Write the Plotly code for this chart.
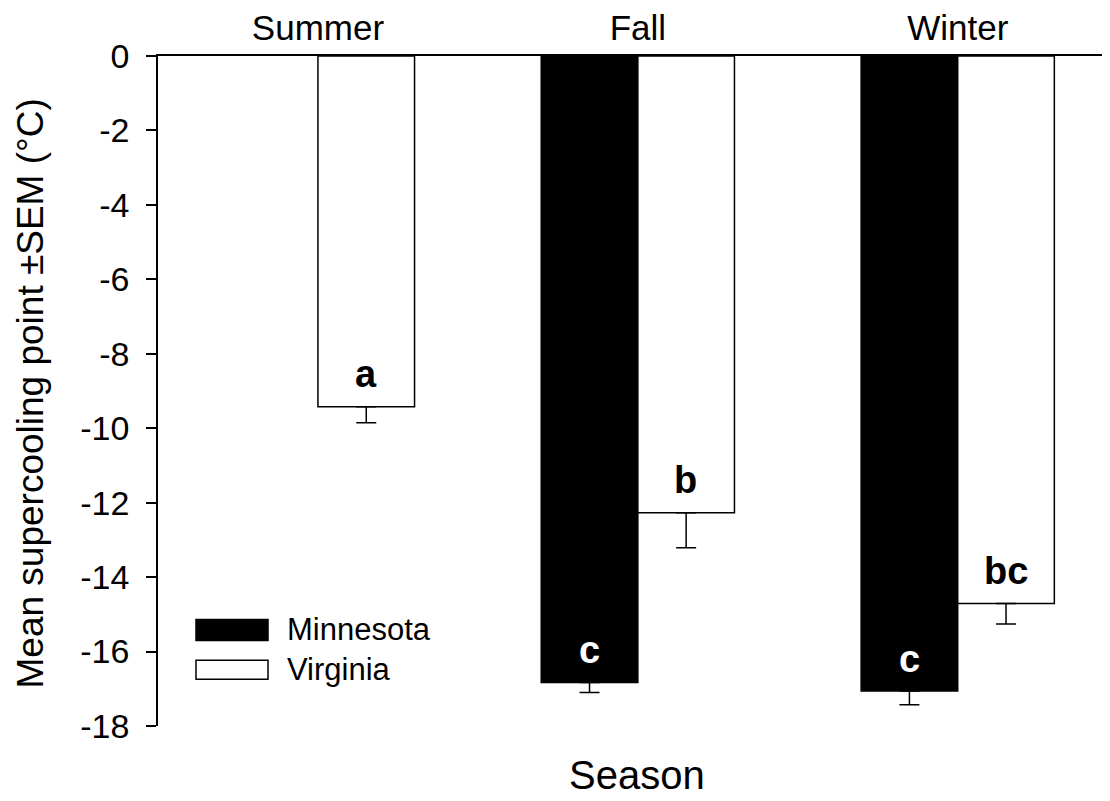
import plotly.graph_objects as go

seasons = ["Summer", "Fall", "Winter"]
minnesota_mean = [None, -16.83, -17.06]
minnesota_sem = [0, 0.27, 0.37]
virginia_mean = [-9.42, -12.27, -14.71]
virginia_sem = [0.43, 0.94, 0.55]
minnesota_letters = ["", "c", "c"]
virginia_letters = ["a", "b", "bc"]
y_ticks = [0, -2, -4, -6, -8, -10, -12, -14, -16, -18]

FONT = "Liberation Sans, Arial, sans-serif"
OFF = 8  # page body margin
W, H = 1110 - OFF, 801 - OFF
ML, MR, MT, MB = 158 - OFF, 0, 53 - OFF, 75
plot_w = W - ML - MR
plot_h = H - MT - MB

fig = go.Figure()
fig.add_trace(go.Bar(
    x=seasons, y=minnesota_mean, name="Minnesota",
    marker=dict(color="black", line=dict(color="black", width=1.5)),
    error_y=dict(type="data", symmetric=False, array=[0, 0, 0], arrayminus=minnesota_sem,
                 color="black", thickness=1.5, width=10),
))
fig.add_trace(go.Bar(
    x=seasons, y=virginia_mean, name="Virginia",
    marker=dict(color="white", line=dict(color="black", width=1.5)),
    error_y=dict(type="data", symmetric=False, array=[0, 0, 0], arrayminus=virginia_sem,
                 color="black", thickness=1.5, width=10),
))

bar_half_px = 48
for s, v, t in zip(seasons, minnesota_mean, minnesota_letters):
    if v is not None and t:
        fig.add_annotation(x=s, y=v, text="<b>%s</b>" % t, showarrow=False,
                           xshift=-bar_half_px, yanchor="bottom", yshift=9,
                           font=dict(family=FONT, size=38, color="white"))
for s, v, t in zip(seasons, virginia_mean, virginia_letters):
    if v is not None and t:
        fig.add_annotation(x=s, y=v, text="<b>%s</b>" % t, showarrow=False,
                           xshift=bar_half_px, yanchor="bottom", yshift=10,
                           font=dict(family=FONT, size=38, color="black"))

# Manual legend (positions given in screen pixels of the reference)
def px_x(p):
    return (p - OFF - ML) / plot_w

def px_y(p):
    return (H - MB - (p - OFF)) / plot_h

legend_items = [("Minnesota", "black", 619, 640), ("Virginia", "white", 660, 679)]
for name, col, y0, y1 in legend_items:
    fig.add_shape(type="rect", xref="paper", yref="paper",
                  x0=px_x(196), x1=px_x(268), y0=px_y(y1), y1=px_y(y0),
                  fillcolor=col, line=dict(color="black", width=1.5))
    fig.add_annotation(xref="paper", yref="paper", x=px_x(285), y=px_y((y0 + y1) / 2),
                       text=name, showarrow=False, xanchor="left", yanchor="middle",
                       font=dict(family=FONT, size=31, color="black"))

# Axis titles
fig.add_annotation(xref="paper", yref="paper", x=px_x(637), y=px_y(775),
                   text="Season", showarrow=False, xanchor="center", yanchor="middle",
                   font=dict(family=FONT, size=40, color="black"))
fig.add_annotation(xref="paper", yref="paper", x=px_x(30), y=px_y(392),
                   text="Mean supercooling point ±SEM (°C)", showarrow=False,
                   textangle=-90, xanchor="center", yanchor="middle",
                   font=dict(family=FONT, size=37, color="black"))

fig.update_layout(
    width=W, height=H,
    margin=dict(l=ML, r=MR, t=MT, b=MB, pad=0),
    paper_bgcolor="white", plot_bgcolor="white",
    barmode="group", bargap=0.396, bargroupgap=0,
    showlegend=False,
    font=dict(family=FONT, color="black"),
    xaxis=dict(side="top", type="category", range=[-0.5, 2.476],
               showline=True, linecolor="black", linewidth=1.5,
               ticks="", showgrid=False, zeroline=False,
               tickfont=dict(family=FONT, size=35, color="black")),
    yaxis=dict(range=[-18, 0], tickvals=y_ticks, ticktext=[str(v) for v in y_ticks],
               showline=True, linecolor="black", linewidth=1.5,
               ticks="outside", ticklen=10, tickwidth=1.5, tickcolor="black",
               ticklabelstandoff=10,
               showgrid=False, zeroline=False,
               tickfont=dict(family=FONT, size=34, color="black")),
)

fig.write_html("out.html")
